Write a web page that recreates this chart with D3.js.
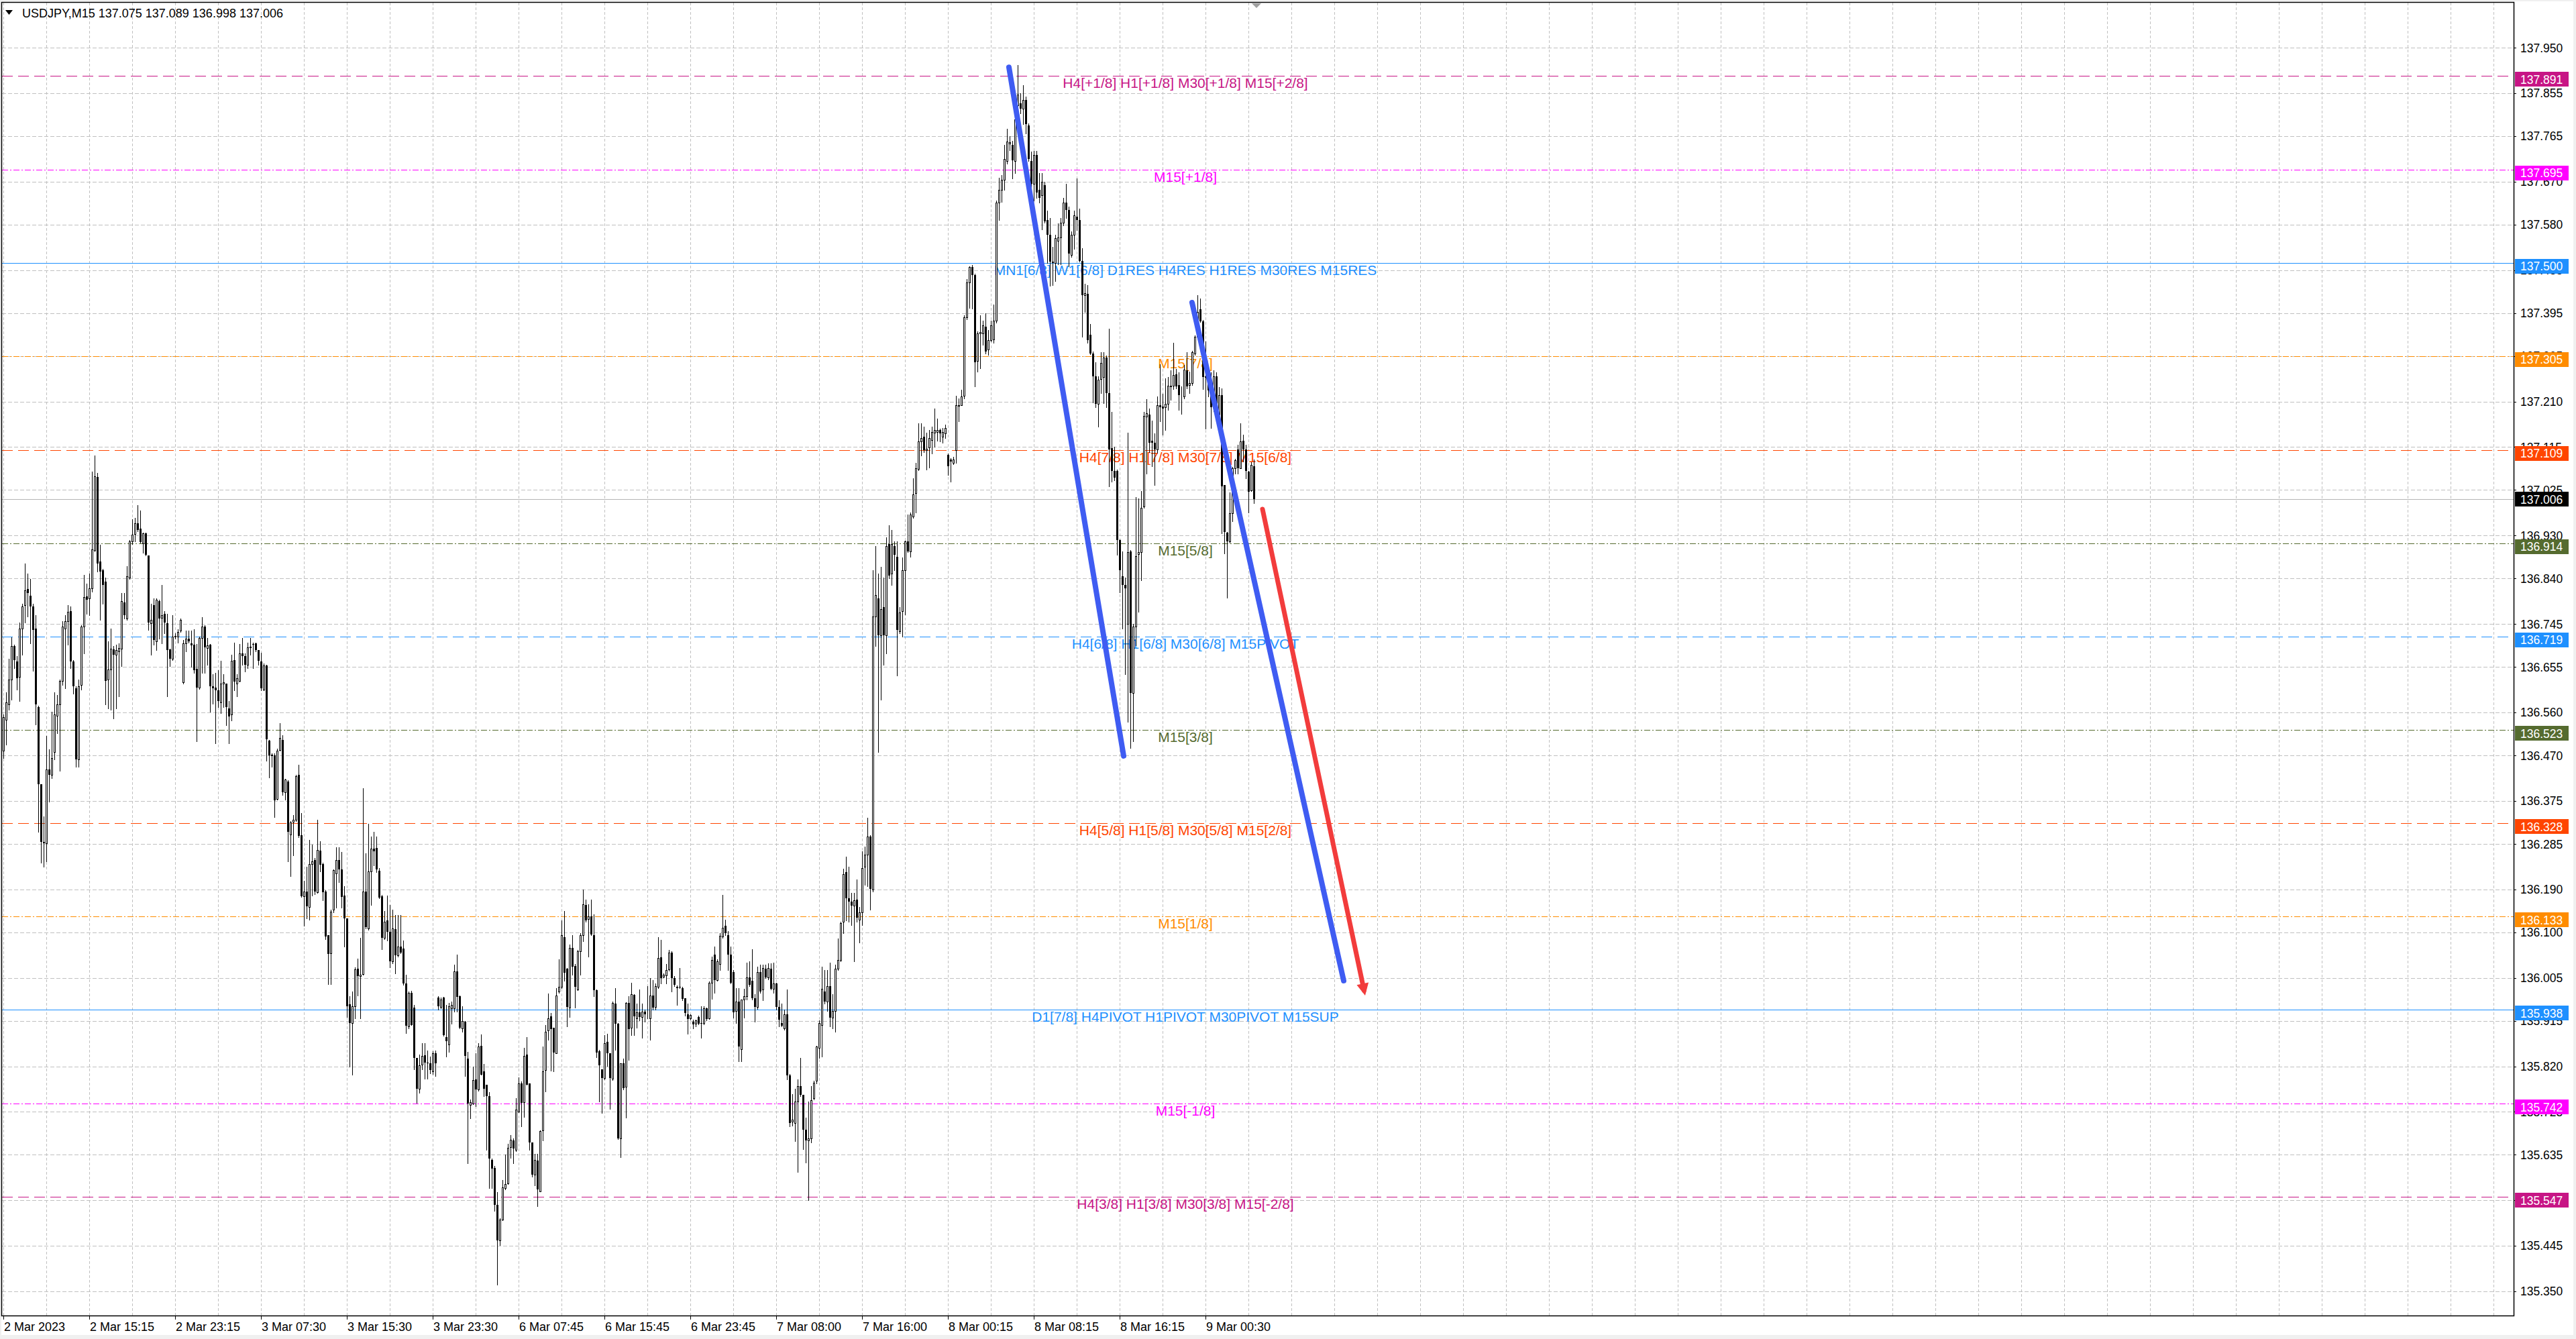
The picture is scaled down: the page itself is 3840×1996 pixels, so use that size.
<!DOCTYPE html>
<html>
<head>
<meta charset="utf-8">
<script src="https://cdn.jsdelivr.net/npm/d3@7"></script>
<style>
  body { margin: 0; background: #f0f0f0; overflow: hidden; }
  svg { display: block; }
</style>
</head>
<body>
<svg id="chart" width="3840" height="1996"></svg>
<script>
const title = "USDJPY,M15  137.075 137.089 136.998 137.006";

// one row per M15 bar: open, high, low, close
const bars = [
[136.480,136.556,136.465,136.550],[136.544,136.602,136.492,136.581],[136.577,136.672,136.565,136.629],[136.629,136.717,136.587,136.699],[136.699,136.702,136.653,136.669],
[136.666,136.678,136.608,136.632],[136.635,136.748,136.584,136.736],[136.736,136.787,136.681,136.781],[136.784,136.871,136.748,136.815],[136.818,136.851,136.760,136.809],
[136.804,136.839,136.705,136.781],[136.782,136.787,136.647,136.733],[136.736,136.764,136.535,136.577],[136.571,136.574,136.310,136.410],[136.410,136.410,136.246,136.289],
[136.289,136.343,136.237,136.286],[136.286,136.511,136.249,136.441],[136.441,136.483,136.374,136.429],[136.429,136.562,136.422,136.465],[136.477,136.602,136.462,136.556],
[136.553,136.596,136.517,136.577],[136.577,136.629,136.438,136.626],[136.626,136.751,136.617,136.739],[136.736,136.763,136.611,136.751],[136.751,136.784,136.702,136.770],
[136.772,136.781,136.653,136.666],[136.666,136.669,136.599,136.614],[136.611,136.614,136.447,136.462],[136.462,136.629,136.447,136.614],[136.617,136.742,136.608,136.739],
[136.739,136.848,136.684,136.801],[136.802,136.830,136.766,136.795],[136.799,136.851,136.763,136.819],[136.819,137.064,136.812,136.901],[136.900,137.097,136.897,137.054],
[137.052,137.061,136.854,136.871],[136.875,136.910,136.754,136.854],[136.858,136.860,136.787,136.827],[136.833,136.842,136.577,136.626],[136.629,136.708,136.568,136.650],
[136.650,136.736,136.565,136.693],[136.692,136.699,136.547,136.681],[136.681,136.702,136.568,136.690],[136.687,136.705,136.593,136.695],[136.693,136.809,136.657,136.793],
[136.790,136.809,136.757,136.763],[136.757,136.866,136.754,136.845],[136.842,136.921,136.839,136.918],[136.918,136.964,136.912,136.932],[136.933,136.967,136.918,136.956],
[136.956,136.993,136.939,136.942],[136.945,136.982,136.915,136.916],[136.913,136.936,136.894,136.935],[136.935,136.936,136.888,136.889],[136.888,136.888,136.733,136.748],
[136.746,136.787,136.681,136.753],[136.784,136.799,136.702,136.711],[136.708,136.799,136.690,136.796],[136.793,136.796,136.714,136.757],[136.758,136.827,136.705,136.763],
[136.766,136.772,136.726,136.748],[136.746,136.766,136.593,136.690],[136.692,136.693,136.657,136.672],[136.672,136.763,136.669,136.718],[136.718,136.726,136.714,136.720],
[136.718,136.734,136.706,136.729],[136.731,136.756,136.728,136.753],[136.623,136.712,136.621,136.704],[136.704,136.731,136.687,136.714],[136.714,136.731,136.706,136.709],
[136.704,136.731,136.656,136.700],[136.701,136.734,136.643,136.648],[136.651,136.703,136.499,136.612],[136.612,136.718,136.609,136.715],[136.715,136.759,136.643,136.740],
[136.740,136.743,136.643,136.696],[136.695,136.715,136.659,136.700],[136.701,136.703,136.562,136.615],[136.614,136.640,136.578,136.611],[136.612,136.643,136.496,136.606],
[136.606,136.649,136.571,136.584],[136.581,136.668,136.559,136.621],[136.620,136.640,136.571,136.623],[136.620,136.621,136.534,136.571],[136.568,136.584,136.496,136.552],
[136.556,136.681,136.543,136.668],[136.670,136.706,136.606,136.624],[136.620,136.640,136.593,136.631],[136.626,136.703,136.624,136.683],[136.683,136.715,136.659,136.678],
[136.678,136.684,136.646,136.660],[136.660,136.706,136.653,136.696],[136.696,136.715,136.681,136.698],[136.703,136.706,136.653,136.701],[136.704,136.706,136.687,136.690],
[136.690,136.691,136.659,136.668],[136.666,136.685,136.606,136.611],[136.608,136.662,136.606,136.658],[136.658,136.659,136.459,136.504],[136.501,136.502,136.424,136.470],
[136.471,136.474,136.446,136.469],[136.470,136.474,136.341,136.376],[136.379,136.484,136.377,136.480],[136.482,136.537,136.480,136.506],[136.502,136.512,136.387,136.393],
[136.393,136.421,136.377,136.420],[136.416,136.418,136.249,136.310],[136.305,136.333,136.218,136.330],[136.332,136.346,136.261,136.336],[136.335,136.430,136.333,136.427],
[136.430,136.451,136.299,136.302],[136.303,136.349,136.174,136.176],[136.176,136.208,136.114,136.186],[136.186,136.238,136.130,136.155],[136.153,136.293,136.127,136.243],
[136.243,136.283,136.177,136.249],[136.251,136.255,136.180,136.186],[136.184,136.336,136.183,136.272],[136.271,136.291,136.227,136.241],[136.243,136.246,136.167,136.184],
[136.186,136.188,136.086,136.092],[136.094,136.095,135.992,136.055],[136.057,136.147,135.992,136.144],[136.147,136.232,136.142,136.230],[136.224,136.278,136.152,136.252],
[136.252,136.278,136.205,136.232],[136.232,136.268,136.152,136.174],[136.177,136.196,136.070,136.130],[136.130,136.130,135.923,135.946],[135.950,135.967,135.820,135.911],
[135.911,135.976,135.802,135.945],[135.945,136.027,135.920,136.023],[136.024,136.045,135.968,136.009],[136.009,136.089,135.921,136.012],[136.013,136.402,136.012,136.186],
[136.186,136.265,136.108,136.111],[136.108,136.327,136.105,136.227],[136.227,136.300,136.157,136.275],[136.275,136.310,136.240,136.270],[136.276,136.300,136.226,136.232],
[136.229,136.235,136.171,136.173],[136.176,136.178,136.065,136.088],[136.088,136.145,136.086,136.123],[136.125,136.177,136.083,136.102],[136.102,136.157,136.027,136.039],
[136.039,136.148,136.036,136.108],[136.107,136.136,136.015,136.052],[136.052,136.137,136.050,136.071],[136.071,136.137,136.056,136.058],[136.066,136.083,135.991,135.994],
[135.994,136.012,135.889,135.905],[135.903,135.977,135.900,135.974],[135.974,135.978,135.906,135.907],[135.943,135.948,135.814,135.838],[135.838,135.838,135.744,135.773],
[135.773,135.844,135.764,135.822],[135.823,135.868,135.814,135.842],[135.843,135.869,135.794,135.828],[135.828,135.853,135.794,135.826],[135.826,135.841,135.806,135.812],
[135.810,135.852,135.804,135.848],[135.848,135.853,135.800,135.826],[135.964,135.966,135.938,135.946],[135.944,135.964,135.942,135.960],[135.964,135.965,135.884,135.885],
[135.881,135.948,135.840,135.873],[135.866,135.952,135.850,135.946],[135.942,135.956,135.909,135.948],[135.942,136.033,135.935,136.018],[136.018,136.053,135.935,135.965],
[135.966,135.968,135.900,135.901],[135.900,135.946,135.893,135.915],[135.913,135.915,135.800,135.842],[135.836,135.850,135.618,135.742],[135.740,135.750,135.712,135.745],
[135.742,135.819,135.741,135.791],[135.793,135.848,135.736,135.771],[135.771,135.868,135.769,135.862],[135.863,135.887,135.803,135.803],[135.809,135.825,135.758,135.773],
[135.781,135.781,135.645,135.757],[135.757,135.766,135.565,135.627],[135.624,135.627,135.565,135.606],[135.608,135.612,135.518,135.531],[135.531,135.557,135.364,135.456],
[135.456,135.502,135.446,135.500],[135.499,135.583,135.498,135.567],[135.565,135.636,135.562,135.574],[135.576,135.658,135.574,135.649],[135.651,135.676,135.629,135.667],
[135.665,135.669,135.618,135.648],[135.646,135.754,135.642,135.730],[135.726,135.797,135.724,135.785],[135.785,135.788,135.695,135.744],[135.745,135.859,135.714,135.842],
[135.844,135.881,135.781,135.782],[135.785,135.785,135.646,135.661],[135.661,135.661,135.589,135.593],[135.594,135.637,135.571,135.624],[135.623,135.637,135.528,135.563],
[135.559,135.686,135.558,135.685],[135.686,135.862,135.665,135.810],[135.812,135.906,135.767,135.893],[135.895,135.972,135.876,135.921],[135.924,135.932,135.811,135.898],
[135.901,135.901,135.809,135.849],[135.848,135.983,135.847,135.968],[135.976,136.044,135.973,135.986],[135.986,136.125,135.983,136.094],[136.090,136.145,135.999,136.016],
[136.024,136.026,135.904,135.944],[135.943,136.075,135.923,136.068],[136.068,136.094,136.011,136.029],[136.030,136.034,135.943,135.986],[135.981,136.064,135.979,136.061],
[136.060,136.099,136.011,136.094],[136.095,136.190,136.081,136.159],[136.158,136.169,136.123,136.125],[136.128,136.159,136.050,136.134],[136.134,136.168,136.095,136.096],
[136.095,136.138,135.966,135.979],[135.979,135.981,135.839,135.849],[135.852,135.854,135.746,135.822],[135.814,135.814,135.722,135.796],[135.796,135.886,135.793,135.869],
[135.871,135.888,135.821,135.847],[135.847,135.848,135.731,135.796],[135.794,135.956,135.792,135.952],[135.951,135.983,135.854,135.909],[135.909,135.911,135.668,135.669],
[135.670,135.826,135.630,135.826],[135.826,135.836,135.772,135.774],[135.778,135.954,135.713,135.952],[135.952,135.966,135.833,135.898],[135.901,135.995,135.886,135.971],
[135.969,135.971,135.886,135.924],[135.921,135.951,135.901,135.933],[135.933,135.981,135.916,135.923],[135.923,135.951,135.879,135.934],[135.934,135.939,135.914,135.929],
[135.923,135.988,135.921,135.923],[135.921,136.005,135.876,135.968],[135.968,136.001,135.938,135.943],[135.944,135.993,135.939,135.988],[135.986,136.090,135.984,136.046],
[136.048,136.084,135.994,136.005],[136.008,136.014,136.006,136.011],[136.010,136.034,135.994,136.021],[136.023,136.064,136.020,136.058],[136.058,136.061,135.976,136.005],
[136.005,136.009,135.988,135.990],[135.986,135.989,135.948,135.984],[135.986,136.026,135.983,135.985],[135.984,135.986,135.958,135.961],[135.962,135.963,135.926,135.931],
[135.929,135.951,135.888,135.919],[135.921,135.929,135.917,135.928],[135.913,135.917,135.899,135.908],[135.909,135.918,135.903,135.916],[135.923,135.926,135.908,135.909],
[135.911,135.946,135.879,135.909],[135.911,135.946,135.908,135.942],[135.941,135.943,135.916,135.919],[135.921,135.998,135.919,135.995],[135.995,136.050,135.961,136.043],
[136.054,136.071,135.973,136.001],[136.001,136.044,135.999,136.039],[136.034,136.099,136.021,136.093],[136.091,136.179,136.089,136.110],[136.114,136.126,136.094,136.098],
[136.094,136.103,136.021,136.054],[136.054,136.070,135.993,135.995],[136.017,136.021,135.922,135.933],[135.936,135.984,135.911,135.955],[135.955,135.984,135.830,135.861],
[135.856,135.960,135.830,135.960],[135.960,135.982,135.922,135.966],[135.966,136.037,135.960,136.006],[136.006,136.039,135.988,135.991],[135.999,136.065,135.960,135.962],
[135.962,135.971,135.914,135.944],[135.944,136.028,135.940,136.017],[136.017,136.032,135.973,135.977],[135.980,136.032,135.958,136.026],[136.024,136.032,136.004,136.006],
[136.006,136.035,136.002,136.026],[136.024,136.035,135.980,135.982],[135.982,136.037,135.973,135.993],[135.993,135.995,135.938,135.944],[135.944,135.958,135.903,135.918],
[135.911,135.951,135.903,135.905],[135.900,135.938,135.896,135.929],[135.929,135.980,135.793,135.801],[135.801,135.804,135.694,135.702],[135.705,135.762,135.696,135.709],
[135.702,135.773,135.663,135.746],[135.746,135.793,135.599,135.779],[135.779,135.837,135.757,135.760],[135.760,135.760,135.647,135.687],[135.687,135.713,135.619,135.665],
[135.665,135.746,135.540,135.669],[135.669,135.779,135.661,135.749],[135.753,135.790,135.751,135.786],[135.790,135.863,135.784,135.861],[135.859,135.916,135.837,135.911],
[135.907,136.028,135.841,135.982],[135.977,136.021,135.951,135.955],[135.955,136.021,135.936,135.988],[135.988,136.037,135.903,135.922],[135.922,135.971,135.900,135.936],
[135.936,136.032,135.892,136.024],[136.024,136.087,136.021,136.043],[136.043,136.123,136.039,136.120],[136.123,136.233,136.098,136.222],[136.226,136.259,136.125,136.171],
[136.171,136.237,136.123,136.164],[136.164,136.182,136.116,136.156],[136.156,136.182,136.039,136.167],[136.169,136.211,136.123,136.131],[136.127,136.153,136.079,136.142],
[136.142,136.270,136.116,136.235],[136.237,136.279,136.200,136.263],[136.263,136.340,136.197,136.301],[136.301,136.303,136.147,136.191],[136.189,136.857,136.186,136.761],
[136.761,136.908,136.699,136.805],[136.798,136.851,136.477,136.721],[136.721,136.864,136.587,136.776],[136.780,136.842,136.659,136.721],[136.721,136.926,136.684,136.908],
[136.912,136.952,136.840,136.846],[136.851,136.941,136.827,136.912],[136.908,136.917,136.857,136.890],[136.886,136.917,136.637,136.732],[136.730,136.780,136.725,136.769],
[136.772,136.884,136.719,136.857],[136.857,136.919,136.765,136.917],[136.917,136.974,136.895,136.897],[136.897,136.978,136.886,136.974],[136.970,137.049,136.967,137.016],
[137.018,137.082,136.978,137.071],[137.069,137.165,137.066,137.126],[137.126,137.164,137.097,137.133],[137.137,137.157,137.104,137.108],[137.108,137.145,137.068,137.111],
[137.114,137.150,137.072,137.133],[137.130,137.157,137.101,137.147],[137.145,137.195,137.116,137.150],[137.147,137.174,137.128,137.150],[137.150,137.153,137.126,137.143],
[137.137,137.155,137.124,137.147],[137.143,137.162,137.133,137.155],[137.099,137.101,137.056,137.075],[137.089,137.092,137.043,137.085],[137.082,137.095,137.079,137.089],
[137.108,137.222,137.082,137.203],[137.201,137.217,137.169,137.203],[137.203,137.234,137.203,137.220],[137.222,137.391,137.217,137.386],[137.386,137.466,137.382,137.459],
[137.459,137.493,137.406,137.491],[137.491,137.495,137.404,137.475],[137.475,137.478,137.242,137.292],[137.295,137.357,137.272,137.353],[137.353,137.391,137.280,137.355],
[137.353,137.379,137.328,137.369],[137.367,137.394,137.311,137.314],[137.319,137.359,137.307,137.338],[137.338,137.379,137.336,137.369],[137.340,137.413,137.333,137.379],
[137.379,137.630,137.375,137.626],[137.626,137.678,137.589,137.652],[137.652,137.684,137.628,137.674],[137.674,137.746,137.652,137.717],[137.713,137.781,137.707,137.754],
[137.749,137.765,137.736,137.752],[137.746,137.755,137.676,137.715],[137.713,137.860,137.688,137.800],[137.829,137.913,137.821,137.852],[137.833,137.855,137.813,137.823],
[137.823,137.871,137.790,137.840],[137.840,137.848,137.771,137.790],[137.787,137.792,137.713,137.717],[137.713,137.732,137.642,137.665],[137.665,137.734,137.630,137.726],
[137.726,137.734,137.636,137.647],[137.652,137.688,137.626,137.636],[137.642,137.688,137.570,137.669],[137.662,137.669,137.584,137.587],[137.589,137.609,137.500,137.558],
[137.558,137.594,137.452,137.502],[137.502,137.533,137.454,137.500],[137.500,137.558,137.462,137.551],[137.546,137.582,137.497,137.553],[137.553,137.594,137.497,137.584],
[137.584,137.636,137.578,137.626],[137.626,137.665,137.594,137.610],[137.610,137.618,137.493,137.520],[137.517,137.565,137.512,137.558],[137.558,137.609,137.529,137.599],
[137.597,137.676,137.568,137.589],[137.589,137.613,137.502,137.504],[137.504,137.531,137.346,137.433],[137.433,137.456,137.398,137.437],[137.435,137.454,137.333,137.338],
[137.350,137.372,137.309,137.311],[137.311,137.314,137.208,137.263],[137.263,137.292,137.198,137.205],[137.205,137.263,137.157,137.256],[137.257,137.313,137.228,137.291],
[137.261,137.313,137.206,137.302],[137.302,137.306,137.198,137.228],[137.228,137.363,137.033,137.110],[137.113,137.188,137.043,137.065],[137.065,137.115,137.045,137.051],
[137.065,137.068,136.890,136.921],[136.921,136.922,136.811,136.857],[136.845,136.897,136.735,136.827],[136.827,136.842,136.640,136.819],[136.745,137.145,136.540,136.895],
[136.897,136.900,136.485,136.600],[136.600,136.745,136.500,136.740],[136.740,137.010,136.700,136.887],[136.891,137.008,136.770,136.895],[136.895,137.023,136.837,136.988],
[136.990,137.188,136.988,137.180],[137.178,137.215,137.060,137.185],[137.183,137.196,137.104,137.124],[137.128,137.170,137.075,137.124],[137.124,137.143,137.035,137.110],
[137.110,137.221,137.103,137.203],[137.203,137.288,137.169,137.198],[137.200,137.226,137.140,137.196],[137.198,137.258,137.150,137.205],[137.205,137.261,137.193,137.243],
[137.241,137.276,137.213,137.243],[137.243,137.333,137.236,137.266],[137.267,137.278,137.238,137.242],[137.245,137.271,137.193,137.223],[137.220,137.241,137.184,137.221],
[137.221,137.286,137.217,137.277],[137.276,137.313,137.238,137.241],[137.245,137.273,137.228,137.248],[137.248,137.316,137.245,137.313],[137.311,137.348,137.308,137.346],
[137.346,137.433,137.343,137.398],[137.403,137.426,137.376,137.378],[137.378,137.380,137.236,137.261],[137.261,137.336,137.154,137.263],[137.263,137.270,137.221,137.233],
[137.233,137.271,137.155,137.198],[137.198,137.275,137.190,137.263],[137.263,137.271,137.170,137.183],[137.183,137.240,137.150,137.223],[137.223,137.238,136.935,137.033],
[137.035,137.035,136.892,136.937],[136.936,136.937,136.800,136.917],[136.917,137.020,136.915,136.976],[136.976,137.073,136.960,137.070],[137.070,137.090,137.060,137.088],
[137.110,137.120,137.060,137.071],[137.071,137.165,137.070,137.126],[137.128,137.140,137.085,137.110],[137.110,137.120,137.050,137.065],[137.063,137.065,136.978,137.021],
[137.024,137.083,137.023,137.078],[137.075,137.089,136.998,137.006]
];

const timeTickBars = [0, 32, 64, 96, 128, 160, 192, 224, 256, 288, 320, 352, 384, 416, 448];
const timeTickLabels = ["2 Mar 2023", "2 Mar 15:15", "2 Mar 23:15", "3 Mar 07:30", "3 Mar 15:30", "3 Mar 23:30",
  "6 Mar 07:45", "6 Mar 15:45", "6 Mar 23:45", "7 Mar 08:00", "7 Mar 16:00", "8 Mar 00:15", "8 Mar 08:15",
  "8 Mar 16:15", "9 Mar 00:30"];

const priceTicks = [137.950, 137.855, 137.765, 137.670, 137.580, 137.485, 137.395, 137.305, 137.210, 137.115,
  137.025, 136.930, 136.840, 136.745, 136.655, 136.560, 136.470, 136.375, 136.285, 136.190, 136.100, 136.005,
  135.915, 135.820, 135.725, 135.635, 135.540, 135.445, 135.350];

const levelPrices = [137.891, 137.695, 137.500, 137.305, 137.109, 136.914, 136.719, 136.523, 136.328, 136.133,
  135.938, 135.742, 135.547];
const levelTexts = ["H4[+1/8] H1[+1/8] M30[+1/8] M15[+2/8]", "M15[+1/8]",
  "MN1[6/8] W1[6/8] D1RES H4RES H1RES M30RES M15RES", "M15[7/8]", "H4[7/8] H1[7/8] M30[7/8] M15[6/8]",
  "M15[5/8]", "H4[6/8] H1[6/8] M30[6/8] M15PIVOT", "M15[3/8]", "H4[5/8] H1[5/8] M30[5/8] M15[2/8]",
  "M15[1/8]", "D1[7/8] H4PIVOT H1PIVOT M30PIVOT M15SUP", "M15[-1/8]", "H4[3/8] H1[3/8] M30[3/8] M15[-2/8]"];

const lastPrice = 137.006;

// hand drawn objects: [bar, price, bar, price]
const blueLines = [[374.75, 137.909, 417.5, 136.469], [443, 137.417, 499.5, 135.999]];
const redArrow = [469.25, 136.985, 507.5, 135.968];

// ---- styles ----
const levelColors = ["#C71585", "#FF00FF", "#1E90FF", "#FF8C00", "#FF4500", "#556B2F", "#1E90FF",
  "#556B2F", "#FF4500", "#FF8C00", "#1E90FF", "#FF00FF", "#C71585"];
const levelDash = ["16,8", "9,3,2,3", null, "9,3,2,3", "16,8", "9,3,2,3", "16,8", "9,3,2,3", "16,8",
  "9,3,2,3", null, "9,3,2,3", "16,8"];

const plotL = 3, plotR = 3747, plotT = 4, plotB = 1961;
const uiFont = "'Liberation Sans', Arial, sans-serif";

const svg = d3.select("#chart");

const x = d3.scaleLinear().domain([0, 935.5]).range([5, plotR]);
const y = d3.scaleLinear().domain([135.299, 138.044]).range([plotB, plotT]);

svg.append("rect").attr("x", 2).attr("y", 2).attr("width", 3834).attr("height", 1988).attr("fill", "#fff");

svg.append("clipPath").attr("id", "plot")
  .append("rect").attr("x", plotL).attr("y", plotT).attr("width", plotR - plotL).attr("height", plotB - plotT);

const plot = svg.append("g").attr("clip-path", "url(#plot)");

//grid
const vGrid = d3.range(0, 936, 16);
plot.append("g").selectAll("line").data(vGrid).enter().append("line")
  .attr("x1", d => Math.round(x(d)) + 0.5).attr("x2", d => Math.round(x(d)) + 0.5)
  .attr("y1", plotT).attr("y2", plotB)
  .attr("stroke", "#c0c0c0").attr("stroke-dasharray", "4,3").attr("shape-rendering", "crispEdges");

plot.append("g").selectAll("line").data(priceTicks).enter().append("line")
  .attr("x1", plotL).attr("x2", plotR)
  .attr("y1", d => Math.round(y(d)) + 0.5).attr("y2", d => Math.round(y(d)) + 0.5)
  .attr("stroke", "#c0c0c0").attr("stroke-dasharray", "6,3").attr("shape-rendering", "crispEdges");

// level lines + their captions
const lv = plot.append("g");
lv.selectAll("line").data(levelPrices).enter().append("line")
  .attr("x1", plotL).attr("x2", plotR)
  .attr("y1", d => Math.round(y(d)) + 0.5).attr("y2", d => Math.round(y(d)) + 0.5)
  .attr("stroke", (d, i) => levelColors[i])
  .attr("stroke-dasharray", (d, i) => levelDash[i])
  .attr("shape-rendering", "crispEdges");

lv.selectAll("text").data(levelPrices).enter().append("text")
  .attr("x", x(440.5)).attr("y", d => y(d) + 18)
  .attr("text-anchor", "middle")
  .attr("font-family", uiFont).attr("font-size", 21)
  .attr("fill", (d, i) => levelColors[i])
  .text((d, i) => levelTexts[i]);

// current price line
plot.append("line")
  .attr("x1", plotL).attr("x2", plotR)
  .attr("y1", Math.round(y(lastPrice)) + 0.5).attr("y2", Math.round(y(lastPrice)) + 0.5)
  .attr("stroke", "#b4b4b4").attr("shape-rendering", "crispEdges");

// candles
const candle = plot.append("g").selectAll("g").data(bars).enter().append("g");
candle.append("line")
  .attr("x1", (d, i) => Math.round(x(i)) + 0.5).attr("x2", (d, i) => Math.round(x(i)) + 0.5)
  .attr("y1", d => Math.round(y(d[1]))).attr("y2", d => Math.round(y(d[2])) + 1)
  .attr("stroke", "#000").attr("shape-rendering", "crispEdges");

candle.filter(d => d[3] >= d[0]).append("rect")
  .attr("x", d => Math.round(x(bars.indexOf(d))) - 0.5)
  .attr("y", d => Math.round(y(d[3])) + 0.5)
  .attr("width", 2)
  .attr("height", d => Math.max(0, Math.round(y(d[0])) - Math.round(y(d[3]))))
  .attr("fill", "#fff").attr("stroke", "#000").attr("shape-rendering", "crispEdges");

candle.filter(d => d[3] < d[0]).append("rect")
  .attr("x", d => Math.round(x(bars.indexOf(d))) - 1)
  .attr("y", d => Math.round(y(d[0])))
  .attr("width", 3)
  .attr("height", d => Math.max(1, Math.round(y(d[3])) - Math.round(y(d[0]))))
  .attr("fill", "#000").attr("shape-rendering", "crispEdges");

// trend lines
plot.append("g").selectAll("line").data(blueLines).enter().append("line")
  .attr("x1", d => x(d[0])).attr("y1", d => y(d[1]))
  .attr("x2", d => x(d[2])).attr("y2", d => y(d[3]))
  .attr("stroke", "#3f5cf2").attr("stroke-width", 8).attr("stroke-linecap", "round");

const rx1 = x(redArrow[0]), ry1 = y(redArrow[1]), rx2 = x(redArrow[2]), ry2 = y(redArrow[3]);
const ang = Math.atan2(ry2 - ry1, rx2 - rx1);
plot.append("line")
  .attr("x1", rx1).attr("y1", ry1)
  .attr("x2", rx2 - 8 * Math.cos(ang)).attr("y2", ry2 - 8 * Math.sin(ang))
  .attr("stroke", "#f23c3c").attr("stroke-width", 7).attr("stroke-linecap", "round");
const ah = 18, aw = 9;
plot.append("path")
  .attr("d", `M${rx2},${ry2}` +
    `L${rx2 - ah * Math.cos(ang) + aw * Math.sin(ang)},${ry2 - ah * Math.sin(ang) - aw * Math.cos(ang)}` +
    `L${rx2 - ah * Math.cos(ang) - aw * Math.sin(ang)},${ry2 - ah * Math.sin(ang) + aw * Math.cos(ang)}Z`)
  .attr("fill", "#f23c3c");

// frame
svg.append("rect").attr("x", plotL - 0.5).attr("y", plotT - 0.5)
  .attr("width", plotR - plotL + 1).attr("height", plotB - plotT + 1)
  .attr("fill", "none").attr("stroke", "#000").attr("stroke-width", 1.5);

// price axis
const pAxis = svg.append("g");
pAxis.selectAll("line").data(priceTicks).enter().append("line")
  .attr("x1", plotR).attr("x2", plotR + 4)
  .attr("y1", d => Math.round(y(d)) + 0.5).attr("y2", d => Math.round(y(d)) + 0.5)
  .attr("stroke", "#000");
pAxis.selectAll("text").data(priceTicks).enter().append("text")
  .attr("x", 3757).attr("y", d => y(d) + 6.5)
  .attr("font-family", uiFont).attr("font-size", 17.5).attr("fill", "#000")
  .text(d => d.toFixed(3));

// price boxes for levels
const boxes = svg.append("g");
boxes.selectAll("rect").data(levelPrices).enter().append("rect")
  .attr("x", 3749).attr("y", d => Math.round(y(d)) - 6)
  .attr("width", 80).attr("height", 22)
  .attr("fill", (d, i) => levelColors[i]);
boxes.selectAll("text").data(levelPrices).enter().append("text")
  .attr("x", 3757).attr("y", d => y(d) + 11.5)
  .attr("font-family", uiFont).attr("font-size", 17.5).attr("fill", "#fff")
  .text(d => d.toFixed(3));

boxes.append("rect").attr("x", 3749).attr("y", Math.round(y(lastPrice)) - 11)
  .attr("width", 80).attr("height", 22).attr("fill", "#000");
boxes.append("text").attr("x", 3757).attr("y", y(lastPrice) + 6.5)
  .attr("font-family", uiFont).attr("font-size", 17.5).attr("fill", "#fff")
  .text(lastPrice.toFixed(3));

// time axis
const tAxis = svg.append("g");
tAxis.selectAll("line").data(timeTickBars).enter().append("line")
  .attr("x1", d => Math.round(x(d)) + 0.5).attr("x2", d => Math.round(x(d)) + 0.5)
  .attr("y1", plotB).attr("y2", plotB + 6)
  .attr("stroke", "#000");
tAxis.selectAll("text").data(timeTickBars).enter().append("text")
  .attr("x", d => x(d) + 1).attr("y", 1984)
  .attr("font-family", uiFont).attr("font-size", 18).attr("fill", "#000")
  .text((d, i) => timeTickLabels[i]);

// title + chart shift marker
svg.append("path").attr("d", "M8,15L19,15L13.5,22Z").attr("fill", "#000");
svg.append("text").attr("x", 33).attr("y", 26)
  .attr("font-family", uiFont).attr("font-size", 18).attr("fill", "#000")
  .text(title);
svg.append("path").attr("d", `M${x(467) - 7},${plotT + 1}L${x(467) + 7},${plotT + 1}L${x(467)},${plotT + 8}Z`)
  .attr("fill", "#a0a0a0");
</script>
</body>
</html>
